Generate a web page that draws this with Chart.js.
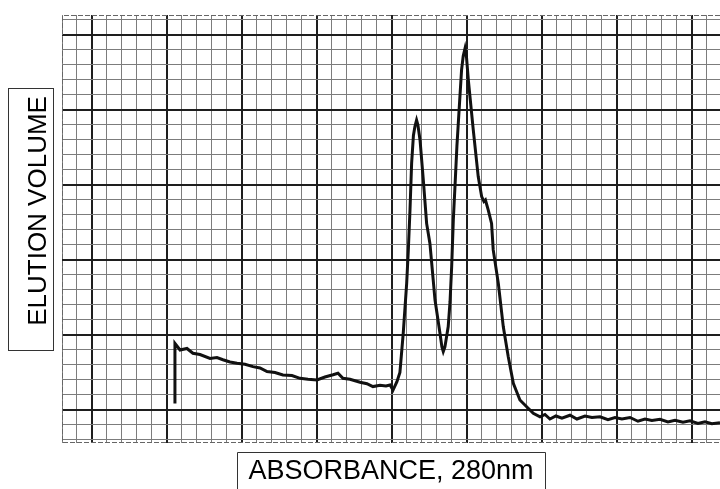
<!DOCTYPE html>
<html lang="en">
  <head>
    <meta charset="UTF-8" />
    <title>Elution profile, A280</title>
    <script src="https://cdn.jsdelivr.net/npm/chart.js"></script>
    <style>
      body { margin: 0; background: #fff; }
      #wrap { width: 720px; height: 489px; }
    </style>
  </head>
  <body>
    <div id="wrap"><canvas id="trace"></canvas></div>

    <script>
      // recorder trace in small chart divisions
      // (x: 0 = first heavy vertical line, y: 0 = lowest heavy horizontal line)
      const elution = [
        5.53, 5.53, 5.87, 6.33, 6.73, 7.2, 7.87, 8.33, 8.73, 9.2, 9.67, 10.2,
        10.73, 11.2, 11.67, 12.2, 12.73, 13.33, 13.87, 14.4, 15.0, 15.53, 16.07,
        16.4, 16.73, 17.2, 17.87, 18.33, 18.73, 19.2, 19.6, 19.87, 20.07, 20.33,
        20.53, 20.75, 20.98, 21.09, 21.2, 21.31, 21.43, 21.53, 21.64, 21.73,
        21.87, 22.09, 22.31, 22.53, 22.87, 23.2, 23.33, 23.42, 23.53, 23.75,
        23.87, 23.98, 24.09, 24.2, 24.33, 24.53, 24.64, 24.75, 24.87, 24.97,
        25.09, 25.42, 25.75, 25.98, 26.13, 26.23, 26.42, 26.64, 26.75, 27.09,
        27.42, 27.75, 28.09, 28.53, 28.98, 29.42, 29.87, 30.2, 30.53, 30.93,
        31.33, 31.87, 32.33, 32.87, 33.33, 33.87, 34.4, 34.87, 35.33, 35.87,
        36.4, 36.87, 37.33, 37.87, 38.4, 38.87, 39.4, 39.87, 40.4, 40.87, 41.33,
        41.87,
      ];
      const absorbance = [
        0.44, 4.44, 4.0, 4.1, 3.78, 3.7, 3.44, 3.5, 3.35, 3.2, 3.11, 3.05, 2.89,
        2.8, 2.56, 2.5, 2.33, 2.3, 2.11, 2.05, 2.0, 2.2, 2.35, 2.45, 2.11, 2.05,
        1.85, 1.75, 1.56, 1.65, 1.6, 1.67, 1.33, 1.89, 2.5, 5.11, 8.44, 10.67,
        13.3, 16.44, 18.3, 18.9, 19.33, 19.0, 18.0, 15.33, 12.44, 11.1, 7.33,
        5.11, 4.2, 3.89, 4.2, 5.56, 7.2, 9.56, 12.67, 14.89, 17.6, 20.89, 22.67,
        23.6, 24.11, 23.5, 22.0, 18.67, 15.56, 14.22, 13.9, 14.0, 13.33, 12.44,
        10.67, 8.44, 5.56, 3.56, 1.78, 0.67, 0.22, -0.22, -0.45, -0.3, -0.6,
        -0.4, -0.55, -0.35, -0.6, -0.4, -0.5, -0.45, -0.65, -0.5, -0.6, -0.5,
        -0.75, -0.6, -0.7, -0.62, -0.8, -0.68, -0.82, -0.72, -0.9, -0.78, -0.92,
        -0.85,
      ];

      // visible piece of the chart paper
      const xRange = [-2, 41.87];
      const yRange = [-2.2, 26.33];

      const labelFont = "'Liberation Sans', Arial, sans-serif";
      const major = (c) => c.tick && Math.round(c.tick.value) % 5 === 0;
      const paperGrid = {
        color: (c) => (major(c) ? "#1e1e1e" : "#7c7c7c"),
        lineWidth: (c) => (major(c) ? 2 : 1),
        drawTicks: false,
      };

      // paper edges and the little boxes round the axis labels
      const frame = {
        id: "frame",
        beforeDatasetsDraw(chart) {
          const { ctx, chartArea: a } = chart;
          ctx.save();
          ctx.strokeStyle = "#666";
          ctx.lineWidth = 1;
          ctx.setLineDash([5, 2]);
          ctx.beginPath();
          ctx.moveTo(a.right, a.top + 0.5);
          ctx.lineTo(a.left + 0.5, a.top + 0.5);
          ctx.lineTo(a.left + 0.5, a.bottom - 0.5);
          ctx.lineTo(a.right, a.bottom - 0.5);
          ctx.stroke();
          ctx.restore();
        },
        afterDraw(chart) {
          const { ctx, chartArea: a, scales } = chart;
          const y = scales.y;
          const x = scales.x;
          const mid = (a.left + a.right) / 2;
          ctx.save();
          ctx.strokeStyle = "#333";
          ctx.lineWidth = 1;
          ctx.strokeRect(y.left + 8.5, a.top + 73.5, y.width - 17, a.height - 166);
          ctx.beginPath();
          ctx.moveTo(mid - 153.5, chart.height);
          ctx.lineTo(mid - 153.5, x.top + 9.5);
          ctx.lineTo(mid + 154.5, x.top + 9.5);
          ctx.lineTo(mid + 154.5, chart.height);
          ctx.stroke();
          ctx.restore();
        },
      };

      new Chart(document.getElementById("trace"), {
        type: "scatter",
        data: {
          datasets: [
            {
              data: elution.map((v, i) => ({ x: v, y: absorbance[i] })),
              showLine: true,
              borderColor: "#111",
              borderWidth: 3,
              pointRadius: 0,
              tension: 0,
            },
          ],
        },
        options: {
          responsive: true,
          maintainAspectRatio: false,
          animation: false,
          layout: { padding: { top: 15 } },
          plugins: { legend: { display: false }, tooltip: { enabled: false } },
          scales: {
            x: {
              type: "linear",
              min: xRange[0],
              max: xRange[1],
              ticks: { display: false, stepSize: 1, includeBounds: false, autoSkip: false },
              grid: paperGrid,
              border: { display: false },
              title: {
                display: true,
                text: "ABSORBANCE, 280nm",
                color: "#000",
                font: { family: labelFont, size: 27 },
                padding: { top: 12.2, bottom: 1.4 },
              },
            },
            y: {
              type: "linear",
              min: yRange[0],
              max: yRange[1],
              ticks: { display: false, stepSize: 1, includeBounds: false, autoSkip: false },
              grid: paperGrid,
              border: { display: false },
              title: {
                display: true,
                // leading blanks lift the label to where it sits on the paper
                text: "     ELUTION VOLUME",
                color: "#000",
                font: { family: labelFont, size: 26 },
                padding: { top: 22.8, bottom: 8 },
              },
            },
          },
        },
        plugins: [frame],
      });
    </script>
  </body>
</html>
